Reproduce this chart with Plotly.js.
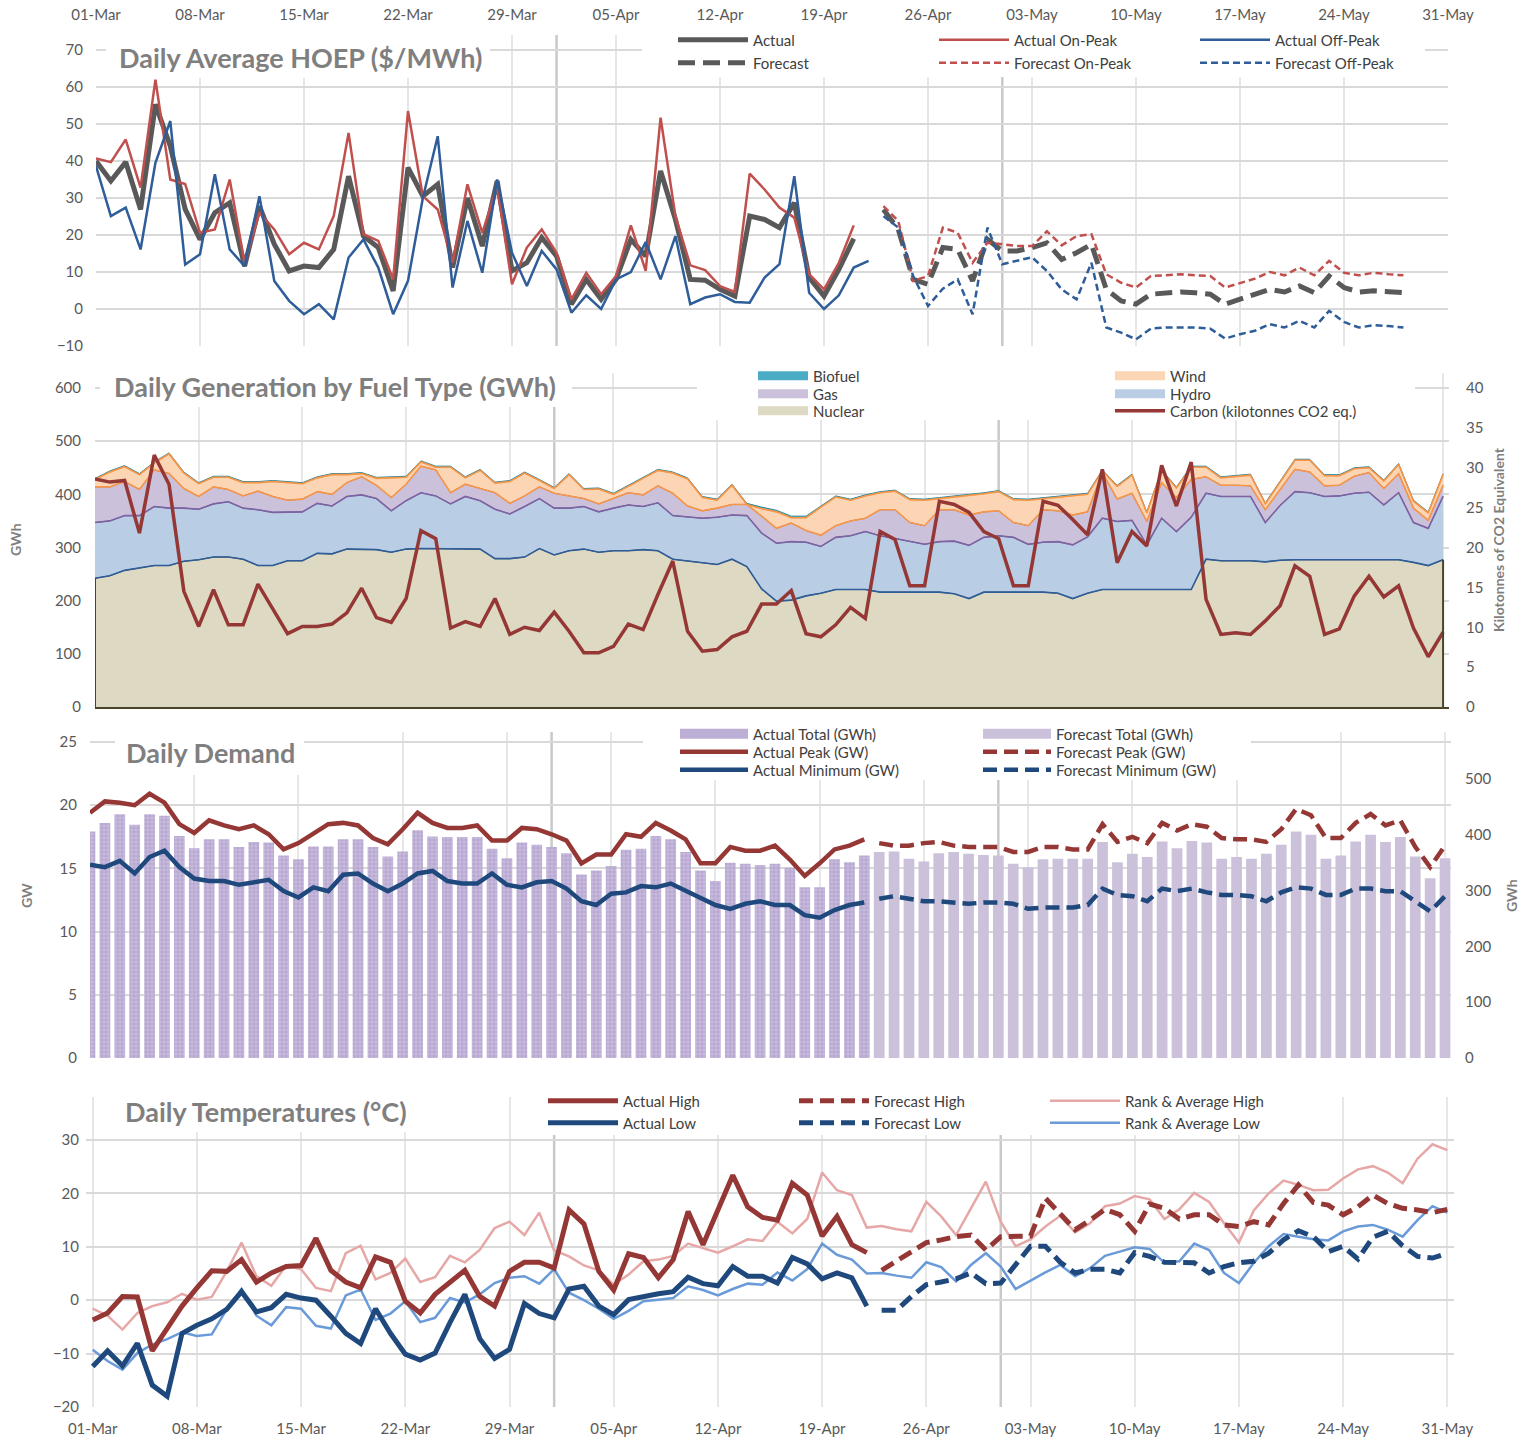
<!DOCTYPE html>
<html>
<head>
<meta charset="utf-8">
<script src="https://cdn.plot.ly/plotly-3.0.1.min.js"></script>
<style>
html, body { margin: 0; padding: 0; background: #ffffff; }
#chart { width: 1522px; height: 1438px; }
</style>
</head>
<body>
<div id="chart"></div>
<script>
// ---------------- categories: 01-Mar .. 31-May (92 days) ----------------
const MONTH_NAMES = ['Jan','Feb','Mar','Apr','May','Jun','Jul','Aug','Sep','Oct','Nov','Dec'];
const dayLabels = [];
for (let i = 0; i < 92; i++) {
  const d = new Date(Date.UTC(2019, 2, 1 + i));
  dayLabels.push(String(d.getUTCDate()).padStart(2, '0') + '-' + MONTH_NAMES[d.getUTCMonth()]);
}
const dayIndex = dayLabels.map((_, i) => i);
const tickDays = [0, 7, 14, 21, 28, 35, 42, 49, 56, 63, 70, 77, 84, 91];
const tickLabels = ['01-Mar','08-Mar','15-Mar','22-Mar','29-Mar','05-Apr','12-Apr','19-Apr','26-Apr','03-May','10-May','17-May','24-May','31-May'];
const monthStarts = [31, 61];
const forecastStart = 53;

// ---------------- Daily Average HOEP ($/MWh) ----------------
const hoepActual = [40,34.6,39.7,26.9,55.3,44,27,18.8,26,28.7, 11.6,27.8,17.5,10.3,11.6,11.2,16.1,35.9,19.7,16.6, 4.9,38.2,30.5,33.7,11.2,30,17,34.6,10.3,12.5, 19.3,14.3,1.3,8,2.6,8,18.8,14.3,37.3,24.2, 8,7.8,5.3,3.5,25.1,24.2,22,28.7,8.5,3.5, 10.7,19];
const hoepOnPeak = [40.7,39.7,45.8,32.8,62,35,33.8,20.6,21.5,35, 12.5,26,21.5,14.8,17.9,16.1,25.1,47.6,20.2,18.4, 8,53.5,30.5,26.9,12.5,33.7,20.6,33.2,6.7,16.6, 21.5,15.2,2.6,9.8,4,8.9,22.6,10.3,51.7,25.1, 11.8,10.5,6.2,4.6,36.6,32.3,27.4,24.7,9.4,5.3, 12.5,22.6];
const hoepOffPeak = [38.6,25.1,27.4,16.1,39.5,50.8,12,14.8,36.4,16.1, 11.6,30.5,7.6,2.2,-1.4,1.3,-2.8,13.9,18.8,11.2, -1.4,7.6,30,46.7,5.8,23.8,9.8,35,15.2,6.2, 15.7,10.7,-1,3.7,0,8,10,18.1,8,19.7, 1.3,3.1,4,1.9,1.7,8.5,12.1,35.9,4.4,0, 3.7,11.2,13];
const hoepForecast = [26.9,21.5,8,6.7,16.6,16.1,7.6,18.8,15.7,15.7, 16.6,17.9,13.4,15.2,17.5,5.3,2.2,1.3,4,4.4, 4.6,4.4,4,1.3,2.6,4,5.3,4.6,6.2,4.4, 8.9,5.8,4.6,4.9,4.6,4.4];
const hoepForecastOnPeak = [27.8,23.8,7.6,8.9,22,20.6,12.5,17.9,17.5,17, 17,21,17.2,19.7,20.2,9.4,7.1,5.8,8.9,9.1, 9.4,9.1,8.9,5.8,7.1,8.2,10,9.1,11.2,9.1, 13,9.8,9.1,9.8,9.4,9.1];
const hoepForecastOffPeak = [25.1,22,8.9,0.8,5.5,8,-1.4,22,12.1,13, 14,10.3,5.3,2.6,12.5,-5,-6.4,-8.2,-5.3,-5, -4.9,-5,-5.3,-8,-6.8,-5.9,-4.1,-5,-3.2,-5, -0.5,-3.5,-5,-4.4,-4.6,-5];

// ---------------- Daily Generation by Fuel Type (GWh) ----------------
const genNuclear = [242,247,257,261,266,266,274,277,282,282, 278,266,266,275,275,289,288,297,296,296, 291,297,298,298,298,298,297,279,279,282, 298,286,294,297,291,294,294,296,294,278, 275,271,268,278,264,222,199,201,209,214, 221,221,221,216,216,216,216,216,213,204, 216,216,216,216,216,214,204,214,221,221, 221,221,221,221,221,278,275,275,275,273, 276,277,277,276,276,277,277,277,277,272, 266,277];
const genHydro = [105,103,103,99,111,108,100,95,100,104, 96,105,100,92,92,94,90,99,103,96, 78,91,105,99,84,98,91,93,84,95, 94,88,80,80,76,80,86,81,90,82, 82,84,89,83,96,105,109,110,101,88, 98,101,109,106,101,95,90,95,99,100, 103,106,103,90,94,97,101,106,134,128, 130,84,134,109,136,124,121,121,121,74, 103,128,126,120,121,125,127,103,126,75, 70,119];
const genGas = [67,64,64,49,69,65,37,24,32,23, 23,35,30,22,24,22,22,26,34,25, 25,31,50,49,21,23,23,31,20,20, 22,28,23,15,15,18,23,22,32,42, 21,14,17,20,21,32,28,35,22,21, 22,28,25,49,54,36,35,60,59,57, 48,47,28,35,61,58,56,47,86,42, 51,44,67,64,71,31,21,21,20,24, 29,42,39,20,20,32,37,31,36,27, 15,21];
const genWind = [14,28,28,28,13,37,29,24,18,23, 25,16,28,33,29,26,37,15,6,13, 37,13,8,5,48,12,34,18,41,43, 12,9,40,17,28,8,12,31,29,38, 51,25,15,36,0,14,31,10,24,53, 54,39,42,32,35,43,48,21,24,36, 34,36,43,48,21,26,36,33,3,24, 34,16,22,18,23,18,14,16,20,11, 16,17,22,19,18,14,9,14,17,13, 14,20];
const genBiofuel = [2,2,2,2,2,2,2,2,2,2, 2,2,2,2,2,2,2,2,2,2, 2,2,2,2,2,2,2,2,2,2, 2,2,2,2,2,2,2,2,2,2, 2,2,2,2,2,3,3,3,3,2, 2,2,2,2,2,2,2,2,2,2, 2,2,2,2,2,2,2,2,2,2, 2,2,2,2,2,2,2,2,2,2, 2,2,2,2,2,2,2,2,2,2, 2,2];
const carbonKt = [28.6,28.2,28.4,21.8,31.6,27.9,14.5,10.1,14.7,10.3, 10.3,15.4,12.3,9.2,10.1,10.1,10.4,11.8,14.9,11.2, 10.6,13.6,22.1,21.1,9.9,10.7,10.1,13.6,9.1,10.0, 9.6,11.9,9.5,6.8,6.8,7.6,10.4,9.7,14.1,18.3, 9.5,7.0,7.2,8.8,9.5,12.9,12.9,14.6,9.2,8.8, 10.3,12.5,11.1,22.0,21.0,15.2,15.2,25.8,25.4,24.4, 22.0,21.1,15.2,15.2,25.8,25.3,23.5,21.6,29.8,18.1, 22.0,20.2,30.3,25.2,30.7,13.5,9.1,9.3,9.1,10.8, 12.7,17.7,16.4,9.1,9.8,13.9,16.4,13.8,15.2,9.9, 6.3,9.4];

// ---------------- Daily Demand ----------------
const demandActualTotal = [406,421,437,418,437,434,398,376,392,392, 378,387,386,363,356,379,379,392,392,378, 361,370,408,397,396,396,396,375,358,386, 382,378,367,329,336,344,373,375,398,392, 369,336,317,350,348,346,348,341,306,306, 356,351,363];
const demandForecastTotal = [369,370,357,352,367,369,366,364,363,348, 342,356,357,357,357,387,351,366,360,388, 376,389,386,357,360,357,366,382,406,400, 357,363,388,400,387,396,361,322,358];
const demandActualPeak = [19.4,20.3,20.2,20.0,20.9,20.2,18.5,17.8,18.8,18.4, 18.1,18.4,17.7,16.5,17.0,17.7,18.5,18.6,18.4,17.4, 16.9,18.1,19.4,18.6,18.2,18.2,18.4,17.2,17.2,18.2, 18.1,17.7,17.2,15.4,16.1,16.1,17.7,17.5,18.6,18.0, 17.3,15.4,15.4,16.7,16.4,16.4,16.8,15.7,14.4,15.4, 16.5,16.8,17.3];
const demandForecastPeak = [17.0,16.8,16.8,17.0,17.1,16.8,16.7,16.7,16.7,16.3, 16.3,16.7,16.7,16.5,16.5,18.5,17.1,17.5,17.0,18.6, 18.0,18.5,18.3,17.4,17.3,17.3,17.1,18.1,19.7,19.2, 17.4,17.4,18.6,19.3,18.4,18.8,16.7,15.1,16.8];
const demandActualMin = [15.3,15.1,15.6,14.6,15.9,16.4,15.1,14.2,14.0,14.0, 13.7,13.9,14.1,13.2,12.7,13.5,13.2,14.5,14.6,13.8, 13.2,13.8,14.6,14.8,14.0,13.8,13.8,14.6,13.7,13.5, 13.9,14.0,13.4,12.4,12.1,13.0,13.1,13.6,13.5,13.8, 13.2,12.7,12.1,11.8,12.2,12.4,12.1,12.1,11.3,11.1, 11.7,12.1,12.3];
const demandForecastMin = [12.6,12.8,12.6,12.4,12.4,12.3,12.2,12.3,12.3,12.2, 11.8,11.9,11.9,11.9,12.1,13.4,12.9,12.8,12.4,13.4, 13.2,13.4,13.1,12.9,12.9,12.8,12.4,13.1,13.5,13.4, 12.9,12.9,13.4,13.4,13.2,13.2,12.4,11.6,12.8];

// ---------------- Daily Temperatures (°C) ----------------
const tempActualHigh = [-3.7,-2.4,0.7,0.6,-9.5,-5.5,-1.1,2.3,5.5,5.4, 7.6,3.4,5.1,6.3,6.5,11.6,5.6,3.4,2.3,8.1, 7.1,-0.2,-2.4,1.1,3.5,5.6,0.7,-1.1,5.4,7.1, 7.1,6.0,16.9,14.3,5.4,1.9,8.7,8.0,4.2,7.6, 16.6,10.4,16.9,23.4,17.5,15.5,15.0,21.9,19.7,12.0, 15.7,10.4,8.9];
const tempActualLow = [-12.4,-9.5,-12.3,-8.1,-15.9,-18.0,-6.2,-4.7,-3.5,-1.7, 1.6,-2.2,-1.4,1.1,0.4,0.0,-3.0,-6.2,-8.1,-1.6, -6.2,-10.1,-11.2,-9.9,-4.2,1.1,-7.2,-10.9,-9.2,-0.6, -2.5,-3.3,2.1,2.6,-1.1,-2.7,0.1,0.7,1.2,1.6, 4.3,3.1,2.7,6.3,4.5,4.5,3.2,8.0,6.8,4.0, 5.1,4.2,-1.1];
const tempForecastHigh = [5.6,7.3,8.9,10.8,11.3,11.9,12.2,9.4,11.9,12.0, 12.0,19.1,16.3,13.2,15.0,17.0,16.0,12.9,18.0,17.2, 15.2,16.0,16.0,14.1,13.8,14.7,14.1,18.1,21.6,18.3, 17.8,16.0,17.5,19.7,18.1,17.2,16.9,16.4,17.0];
const tempForecastLow = [-1.9,-1.9,0.7,2.9,3.4,4.0,5.1,3.1,3.2,6.8, 10.1,10.1,7.1,5.1,5.8,5.8,5.1,8.9,8.2,7.1, 7.1,7.0,5.1,6.3,7.0,7.3,8.8,11.3,13.0,11.9, 9.1,10.1,7.7,11.8,12.9,10.2,8.2,7.9,8.8];
const tempRankAvgHigh = [-1.6,-2.9,-5.5,-2.4,-1.1,-0.4,1.2,0.1,0.6,5.4, 10.8,4.5,2.7,6.5,5.8,2.3,1.7,8.8,10.2,3.9, 5.1,7.8,3.4,4.3,8.3,7.1,9.4,13.5,14.7,12.2, 16.4,9.3,8.2,6.5,5.6,2.9,4.8,7.3,7.6,8.3, 10.6,9.8,8.9,10.1,11.4,11.1,14.7,12.5,15.2,23.9, 20.6,19.7,13.6,13.9,13.3,12.9,18.4,15.7,12.2,17.2, 22.2,14.7,10.1,11.4,13.8,15.8,12.7,14.4,17.6,18.1, 19.5,18.9,15.2,17.0,20.1,18.4,14.4,10.8,16.8,20.0, 22.4,21.6,20.6,20.7,22.8,24.5,25.1,23.9,21.9,26.5, 29.2,28.1];
const tempRankAvgLow = [-9.3,-11.4,-13.0,-9.9,-8.3,-7.3,-6.0,-6.7,-6.4,-1.7, 2.1,-2.9,-4.7,-1.3,-1.6,-4.8,-5.3,0.9,2.0,-3.7, -2.5,-0.2,-4.1,-3.3,0.4,-0.4,1.1,3.2,4.2,4.5, 3.1,5.8,1.4,0.0,-1.6,-3.5,-2.0,-0.2,0.1,0.4, 2.6,1.9,0.9,2.1,3.1,2.9,5.2,3.7,5.8,10.6, 8.5,7.6,5.0,5.1,4.6,4.2,7.1,6.2,3.5,6.6, 8.8,6.3,2.1,3.7,5.2,6.6,4.5,6.0,8.3,9.1, 9.9,9.6,7.0,7.3,10.6,9.4,5.1,3.2,7.0,10.1, 12.4,11.9,11.4,11.2,12.9,13.8,14.1,13.2,11.9,15.0, 17.6,16.4];

// ---------------- styling ----------------
const FONT = 'Lato, "Open Sans", sans-serif';
const W = 1522, H = 1438;
const px = v => v / W;
const py = v => 1 - v / H;
const tickFont = {family: FONT, size: 15, color: '#595959'};

const C = {
  gray: '#595959', onPeak: '#c0504d', offPeak: '#2e5d99',
  nuclearFill: '#ddd9c3', nuclearLine: '#4a452a',
  hydroFill: '#b9cde5', hydroLine: '#2e5d99',
  gasFill: '#ccc1da', gasLine: '#7f62a1',
  windFill: '#fcd5b5', windLine: '#f79646',
  bioFill: '#4bacc6', bioLine: '#31869c',
  carbon: '#953735',
  peak: '#953735', minimum: '#1f497d',
  actTotal: '#bcaed4', fcTotal: '#ccc1da',
  rankHigh: '#e6a8a7', rankLow: '#6a9bd8'
};

const daysFrom = (start, n) => dayIndex.slice(start, start + n);
const labelsFrom = (start, n) => dayLabels.slice(start, start + n);

function lineTrace(start, y, name, color, width, dash, extra) {
  return Object.assign({
    type: 'scatter', mode: 'lines',
    x: daysFrom(start, y.length), y: y, name: name,
    customdata: labelsFrom(start, y.length),
    hovertemplate: '%{customdata}: %{y}<extra>' + name + '</extra>',
    line: {color: color, width: width, dash: dash || 'solid'}
  }, extra);
}
// legend-only entry (no data): draws a wide swatch like the original legend boxes
function legendSwatch(name, color, height, legend, rank, xa, ya) {
  return {type: 'scatter', mode: 'lines', x: [null], y: [null], name: name,
    line: {color: color, width: height}, legend: legend, legendrank: rank,
    xaxis: xa, yaxis: ya, hoverinfo: 'skip'};
}

const traces = [];

// ---- Panel 1: HOEP ----
traces.push(lineTrace(0, hoepActual, 'Actual', C.gray, 5, 'solid', {xaxis: 'x', yaxis: 'y', legend: 'legend', legendrank: 1}));
traces.push(lineTrace(forecastStart, hoepForecast, 'Forecast', C.gray, 5, '17px,8px', {xaxis: 'x', yaxis: 'y', legend: 'legend2', legendrank: 1}));
traces.push(lineTrace(0, hoepOnPeak, 'Actual On-Peak', C.onPeak, 2.5, 'solid', {xaxis: 'x', yaxis: 'y', legend: 'legend', legendrank: 2}));
traces.push(lineTrace(forecastStart, hoepForecastOnPeak, 'Forecast On-Peak', C.onPeak, 2.5, '7px,4px', {xaxis: 'x', yaxis: 'y', legend: 'legend2', legendrank: 2}));
traces.push(lineTrace(0, hoepOffPeak, 'Actual Off-Peak', C.offPeak, 2.5, 'solid', {xaxis: 'x', yaxis: 'y', legend: 'legend', legendrank: 3}));
traces.push(lineTrace(forecastStart, hoepForecastOffPeak, 'Forecast Off-Peak', C.offPeak, 2.5, '7px,4px', {xaxis: 'x', yaxis: 'y', legend: 'legend2', legendrank: 3}));

// ---- Panel 2: generation stacked areas ----
function areaTrace(y, name, fill, lineColor) {
  return {
    type: 'scatter', mode: 'lines', x: dayIndex, y: y, name: name,
    stackgroup: 'gen', fillcolor: fill, line: {color: lineColor, width: 1},
    xaxis: 'x2', yaxis: 'y2', showlegend: false,
    customdata: dayLabels, hovertemplate: '%{customdata}: %{y} GWh<extra>' + name + '</extra>'
  };
}
traces.push(areaTrace(genNuclear, 'Nuclear', C.nuclearFill, C.nuclearLine));
traces.push(areaTrace(genHydro, 'Hydro', C.hydroFill, C.hydroLine));
traces.push(areaTrace(genGas, 'Gas', C.gasFill, C.gasLine));
traces.push(areaTrace(genWind, 'Wind', C.windFill, C.windLine));
traces.push(areaTrace(genBiofuel, 'Biofuel', C.bioFill, C.bioLine));

// boundary outlines between stacked fuels (each series' outline colour)
const cumHydro = genNuclear.map((v, i) => v + genHydro[i]);
const cumGas = cumHydro.map((v, i) => v + genGas[i]);
const cumWind = cumGas.map((v, i) => v + genWind[i]);
[[genNuclear, C.hydroLine], [cumHydro, C.gasLine], [cumGas, C.windLine], [cumWind, C.windLine]].forEach(([yv, col]) => {
  traces.push({type: 'scatter', mode: 'lines', x: dayIndex, y: yv, xaxis: 'x2', yaxis: 'y2',
    line: {color: col, width: 1.6}, showlegend: false, hoverinfo: 'skip'});
});
traces.push(lineTrace(0, carbonKt, 'Carbon (kilotonnes CO2 eq.)', C.carbon, 3.5, 'solid', {xaxis: 'x2', yaxis: 'y3', legend: 'legend5', legendrank: 2}));
traces.push(legendSwatch('Biofuel', C.bioFill, 9, 'legend3', 1, 'x2', 'y2'));
traces.push(legendSwatch('Wind', C.windFill, 9, 'legend3', 2, 'x2', 'y2'));
traces.push(legendSwatch('Gas', C.gasFill, 9, 'legend4', 1, 'x2', 'y2'));
traces.push(legendSwatch('Hydro', C.hydroFill, 9, 'legend4', 2, 'x2', 'y2'));
traces.push(legendSwatch('Nuclear', C.nuclearFill, 9, 'legend5', 1, 'x2', 'y2'));

// ---- Panel 3: demand ----
traces.push({
  type: 'bar', x: daysFrom(0, demandActualTotal.length), y: demandActualTotal, name: 'Actual Total (GWh)',
  xaxis: 'x3', yaxis: 'y4', width: 0.72, showlegend: false,
  marker: {color: C.actTotal, line: {width: 0},
    pattern: {shape: '+', size: 4, solidity: 0.25, fgcolor: '#d6cde6', bgcolor: '#b8a8d1'}},
  customdata: labelsFrom(0, demandActualTotal.length), hovertemplate: '%{customdata}: %{y} GWh<extra></extra>'
});
traces.push({
  type: 'bar', x: daysFrom(forecastStart, demandForecastTotal.length), y: demandForecastTotal, name: 'Forecast Total (GWh)',
  xaxis: 'x3', yaxis: 'y4', width: 0.72, showlegend: false,
  marker: {color: C.fcTotal, line: {width: 0}},
  customdata: labelsFrom(forecastStart, demandForecastTotal.length), hovertemplate: '%{customdata}: %{y} GWh<extra></extra>'
});
traces.push(legendSwatch('Actual Total (GWh)', C.actTotal, 10, 'legend6', 1, 'x3', 'y4'));
traces.push(legendSwatch('Forecast Total (GWh)', C.fcTotal, 10, 'legend6', 2, 'x3', 'y4'));
traces.push(lineTrace(0, demandActualPeak, 'Actual Peak (GW)', C.peak, 4.5, 'solid', {xaxis: 'x3', yaxis: 'y5', legend: 'legend7', legendrank: 1}));
traces.push(lineTrace(forecastStart, demandForecastPeak, 'Forecast Peak (GW)', C.peak, 4.5, '14px,7px', {xaxis: 'x3', yaxis: 'y5', legend: 'legend7', legendrank: 2}));
traces.push(lineTrace(0, demandActualMin, 'Actual Minimum (GW)', C.minimum, 4.5, 'solid', {xaxis: 'x3', yaxis: 'y5', legend: 'legend8', legendrank: 1}));
traces.push(lineTrace(forecastStart, demandForecastMin, 'Forecast Minimum (GW)', C.minimum, 4.5, '14px,7px', {xaxis: 'x3', yaxis: 'y5', legend: 'legend8', legendrank: 2}));

// ---- Panel 4: temperatures ----
traces.push(lineTrace(0, tempRankAvgHigh, 'Rank & Average High', C.rankHigh, 2.5, 'solid', {xaxis: 'x4', yaxis: 'y6', legend: 'legend9', legendrank: 3}));
traces.push(lineTrace(0, tempRankAvgLow, 'Rank & Average Low', C.rankLow, 2.5, 'solid', {xaxis: 'x4', yaxis: 'y6', legend: 'legend10', legendrank: 3}));
traces.push(lineTrace(0, tempActualHigh, 'Actual High', C.peak, 5, 'solid', {xaxis: 'x4', yaxis: 'y6', legend: 'legend9', legendrank: 1}));
traces.push(lineTrace(0, tempActualLow, 'Actual Low', C.minimum, 5, 'solid', {xaxis: 'x4', yaxis: 'y6', legend: 'legend10', legendrank: 1}));
traces.push(lineTrace(forecastStart, tempForecastHigh, 'Forecast High', C.peak, 5, '14px,7px', {xaxis: 'x4', yaxis: 'y6', legend: 'legend9', legendrank: 2}));
traces.push(lineTrace(forecastStart, tempForecastLow, 'Forecast Low', C.minimum, 5, '14px,7px', {xaxis: 'x4', yaxis: 'y6', legend: 'legend10', legendrank: 2}));

// ---------------- layout ----------------
const gridX = {showgrid: true, gridcolor: '#e7e7e7', gridwidth: 1.5, zeroline: false, ticks: '',
  tickmode: 'array', tickvals: tickDays, ticktext: tickLabels, tickfont: tickFont, fixedrange: true};
const gridY = {showgrid: true, gridcolor: '#d9d9d9', gridwidth: 1.5, zeroline: false, ticks: '',
  tickfont: tickFont, fixedrange: true};

function legendRow(xLeft, yCenter, itemW, entryW) {
  return {orientation: 'h', x: px(xLeft), xanchor: 'left', y: py(yCenter), yanchor: 'middle',
    itemwidth: itemW, entrywidth: entryW, entrywidthmode: 'pixels',
    bgcolor: 'rgba(0,0,0,0)', borderwidth: 0, traceorder: 'normal',
    font: {family: FONT, size: 15, color: '#404040'}, itemclick: false, itemdoubleclick: false};
}

// white boxes behind the panel titles and legends (hide gridlines there; no data lies under them)
function whiteBox(x0, x1, yTop, yBottom) {
  return {type: 'rect', xref: 'paper', yref: 'paper', x0: px(x0), x1: px(x1), y0: py(yBottom), y1: py(yTop),
    fillcolor: '#ffffff', line: {width: 0}, layer: 'above'};
}

const shapes = [];
[['x', 'y'], ['x2', 'y2'], ['x3', 'y4'], ['x4', 'y6']].forEach(([xr, yr]) => {
  monthStarts.forEach(m => shapes.push({type: 'line', xref: xr, yref: yr + ' domain', x0: m, x1: m, y0: 0, y1: 1,
    line: {color: '#c9c9c9', width: 2.5}, layer: 'below'}));
});
shapes.push(whiteBox(106, 490, 33, 78));
shapes.push(whiteBox(642, 1425, 33, 77));
shapes.push(whiteBox(100, 572, 371, 407));
shapes.push(whiteBox(697, 1415, 371, 420));
shapes.push(whiteBox(115, 304, 730, 775));
shapes.push(whiteBox(643, 1251, 730, 780));
shapes.push(whiteBox(100, 440, 1095, 1132));
shapes.push(whiteBox(515, 1290, 1095, 1135));
// nuclear area side outlines
shapes.push({type: 'line', xref: 'x2', yref: 'y2', x0: 0, x1: 0, y0: 0, y1: genNuclear[0], line: {color: C.nuclearLine, width: 2}, layer: 'above'});
shapes.push({type: 'line', xref: 'x2', yref: 'y2', x0: 91, x1: 91, y0: 0, y1: genNuclear[91], line: {color: C.nuclearLine, width: 2}, layer: 'above'});

const titleFont = {family: FONT, size: 27, color: '#7f7f7f'};
const axTitleFont = {family: FONT, size: 14, color: '#7f7f7f'};
function title(text, xLeft, yCenter) {
  return {xref: 'paper', yref: 'paper', x: px(xLeft), y: py(yCenter), xanchor: 'left', yanchor: 'middle',
    text: '<b>' + text + '</b>', showarrow: false, font: titleFont};
}
function axTitle(text, xc, yc) {
  return {xref: 'paper', yref: 'paper', x: px(xc), y: py(yc), xanchor: 'center', yanchor: 'middle',
    text: '<b>' + text + '</b>', textangle: -90, showarrow: false, font: axTitleFont};
}

const layout = {
  width: W, height: H, margin: {l: 0, r: 0, t: 0, b: 0},
  paper_bgcolor: '#ffffff', plot_bgcolor: '#ffffff',
  font: {family: FONT, color: '#595959'},
  barmode: 'overlay', showlegend: true, hovermode: 'closest',

  xaxis: Object.assign({}, gridX, {domain: [px(96), px(1448)], range: [0, 91], anchor: 'y', side: 'top', ticklabelstandoff: 11}),
  yaxis: Object.assign({}, gridY, {domain: [py(346), py(35)], range: [-10, 74.05], dtick: 10, tick0: 0, anchor: 'x', ticklabelstandoff: 12}),

  xaxis2: Object.assign({}, gridX, {domain: [px(95), px(1449)], range: [0, 91.4], anchor: 'y2', showticklabels: false,
    showline: true, linecolor: C.nuclearLine, linewidth: 2}),
  yaxis2: Object.assign({}, gridY, {domain: [py(707), py(373)], range: [0, 628.2], dtick: 100, anchor: 'x2', ticklabelstandoff: 13}),
  yaxis3: Object.assign({}, gridY, {showgrid: false, overlaying: 'y2', side: 'right', range: [0, 41.88], dtick: 5, anchor: 'x2', ticklabelstandoff: 16}),

  xaxis3: Object.assign({}, gridX, {domain: [px(90), px(1451)], range: [0, 91.4], anchor: 'y4', showticklabels: false}),
  yaxis4: Object.assign({}, gridY, {showgrid: false, domain: [py(1058), py(732)], range: [0, 584.2], dtick: 100, side: 'right', anchor: 'x3', ticklabelstandoff: 13}),
  yaxis5: Object.assign({}, gridY, {overlaying: 'y4', side: 'left', range: [0, 25.79], dtick: 5, anchor: 'x3', ticklabelstandoff: 12}),

  xaxis4: Object.assign({}, gridX, {domain: [px(86), px(1454)], range: [-0.45, 91.45], anchor: 'y6', side: 'bottom', ticklabelstandoff: 11}),
  yaxis6: Object.assign({}, gridY, {domain: [py(1407), py(1097)], range: [-20, 38.05], dtick: 10, anchor: 'x4', ticklabelstandoff: 6}),

  legend: legendRow(673, 40, 70, 176),
  legend2: legendRow(673, 63, 70, 176),
  legend3: legendRow(753, 376, 50, 292),
  legend4: legendRow(753, 394, 50, 292),
  legend5: legendRow(753, 411, 50, 292),
  legend6: legendRow(675, 734, 68, 220),
  legend7: legendRow(675, 752, 68, 220),
  legend8: legendRow(675, 770, 68, 220),
  legend9: legendRow(543, 1101, 70, 166),
  legend10: legendRow(543, 1123, 70, 166),

  shapes: shapes,
  annotations: [
    title('Daily Average HOEP ($/MWh)', 117, 58),
    title('Daily Generation by Fuel Type (GWh)', 112, 386),
    title('Daily Demand', 124, 753),
    title('Daily Temperatures (°C)', 123, 1111),
    axTitle('GWh', 15, 540),
    axTitle('Kilotonnes of CO2 Equivalent', 1498, 540),
    axTitle('GW', 26, 896),
    axTitle('GWh', 1511, 896)
  ]
};

Plotly.newPlot('chart', traces, layout, {displayModeBar: false, responsive: false});
</script>
</body>
</html>
